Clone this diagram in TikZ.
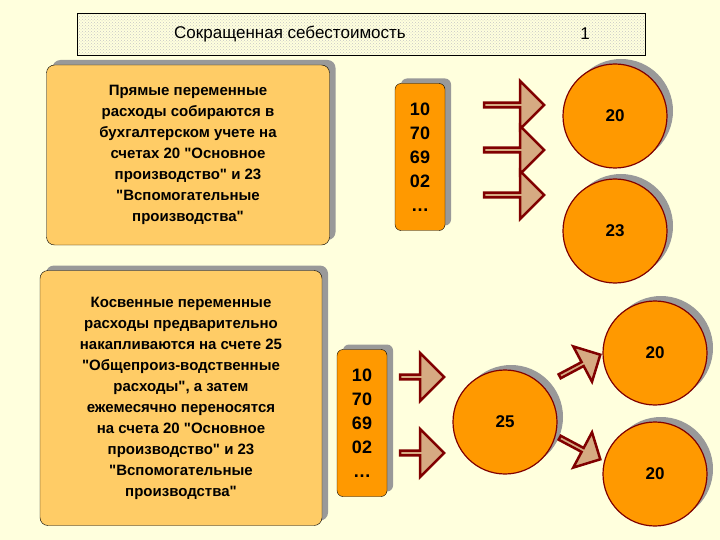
\documentclass[tikz,border=0pt]{standalone}
\usepackage{fontspec}
\setmainfont{Liberation Sans}[Ligatures=TeXOff]
\usetikzlibrary{shapes.arrows,shadows,patterns}
\definecolor{custcol_bg}{RGB}{255,255,221}
\definecolor{custcol_org}{RGB}{255,153,0}
\definecolor{custcol_box}{RGB}{255,204,102}
\definecolor{custcol_red}{RGB}{128,0,0}
\definecolor{custcol_arr}{RGB}{214,170,130}
\tikzset{
  shad/.style={drop shadow={shadow xshift=6pt,shadow yshift=5pt,fill=gray!80,opacity=1}},
  textbox/.style={rounded corners=8pt,draw=black,fill=custcol_box,shad,align=center,font=\bfseries\fontsize{15pt}{21pt}\selectfont},
  numbox/.style={rounded corners=6pt,draw=black,fill=custcol_org,shad,align=center,font=\bfseries\fontsize{18pt}{24pt}\selectfont,minimum width=50pt},
  acct/.style={circle,draw=custcol_red,line width=1.2pt,fill=custcol_org,shad,minimum size=104pt,font=\bfseries\fontsize{17pt}{17pt}\selectfont},
  bigarr/.style={single arrow,draw=custcol_red,line width=2.5pt,fill=custcol_arr,minimum height=60pt,minimum width=48pt,single arrow head extend=12pt,inner sep=0pt}
}
\begin{document}
\begin{tikzpicture}[x=1pt,y=-1pt]
\useasboundingbox[fill=custcol_bg] (0,0) rectangle (720,540);
% title bar
\fill[custcol_bg] (77,13) rectangle (645,55);
\draw[pattern=crosshatch dots,pattern color=gray!45] (77,13) rectangle (645,55);
\node (title) at (290,34) {\fontsize{17pt}{17pt}\selectfont Сокращенная себестоимость};
\node (titleno) at (585,34) {\fontsize{17pt}{17pt}\selectfont 1};
% text boxes
\node[textbox,minimum width=283pt,minimum height=180pt] (direct) at (188,155)
  {Прямые переменные\\расходы собираются в\\бухгалтерском учете на\\счетах 20 "Основное\\производство" и 23\\"Вспомогательные\\производства"};
\node[textbox,minimum width=282pt,minimum height=255pt] (indirect) at (181,398)
  {Косвенные переменные\\расходы предварительно\\накапливаются на счете 25\\"Общепроиз-водственные\\расходы", а затем\\ежемесячно переносятся\\на счета 20 "Основное\\производство" и 23\\"Вспомогательные\\производства"};
% correspondent accounts
\node[numbox,minimum height=147pt] (srcA) at (420,157) {10\\70\\69\\02\\…};
\node[numbox,minimum height=147pt] (srcB) at (362,423) {10\\70\\69\\02\\…};
% accounts
\node[acct] (acc20a) at (615,116) {20};
\node[acct] (acc23) at (615,231) {23};
\node[acct] (acc25) at (505,422) {25};
\node[acct] (acc20b) at (655,353) {20};
\node[acct] (acc20c) at (655,474) {20};
% arrows
\foreach \y/\n in {105/a,150/b,195/c}
  \node[bigarr] (arr\n) at (513,\y) {};
\foreach \y/\n in {377/d,453/e}
  \node[bigarr,minimum height=44pt] (arr\n) at (421,\y) {};
\node[bigarr,minimum height=46pt,minimum width=40pt,single arrow head extend=10pt,rotate=28] (arrf) at (579,366) {};
\node[bigarr,minimum height=46pt,minimum width=40pt,single arrow head extend=10pt,rotate=-28] (arrg) at (579,448) {};
\end{tikzpicture}
\end{document}
